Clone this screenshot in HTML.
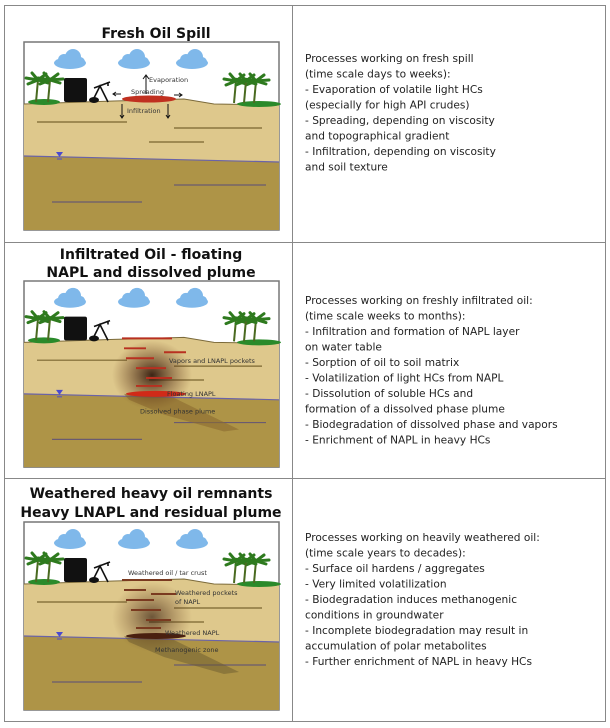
<!DOCTYPE html>
<html><head><meta charset="utf-8"><style>
html,body{margin:0;padding:0;background:#fff}
svg{display:block}
.t{font-family:"DejaVu Sans",sans-serif;font-size:10.6px;fill:#222}
.h{font-family:"DejaVu Sans",sans-serif;font-size:14px;font-weight:bold;fill:#111;text-anchor:middle}
.l{font-family:"DejaVu Sans",sans-serif;font-size:6.5px;fill:#333}
</style></head><body>
<svg width="610" height="728" viewBox="0 0 610 728" xmlns="http://www.w3.org/2000/svg">
<defs>
<g id="cloud"><ellipse cx="0" cy="3" rx="16" ry="6" fill="#7fb8ea"/><circle cx="-6" cy="0" r="6" fill="#7fb8ea"/><circle cx="3" cy="-3" r="8" fill="#7fb8ea"/><circle cx="10" cy="2" r="5" fill="#7fb8ea"/></g>
<g id="palm"><path d="M0 0 L2 -22" stroke="#4a6a20" stroke-width="2"/><path d="M2 -22 l-10 4 M2 -22 l10 3 M2 -22 l-6 -7 M2 -22 l8 -6 M2 -22 l-12 -2 M2 -22 l13 -1" stroke="#2e7a1e" stroke-width="3" stroke-linecap="round"/></g>
<g id="scene">
<rect x="0" y="0" width="255" height="188" fill="#fff" stroke="#777" stroke-width="1.5"/>
<use href="#cloud" x="46" y="18"/><use href="#cloud" x="110" y="18"/><use href="#cloud" x="168" y="18"/>
<polygon points="0,62 90,59 160,57 190,62 255,63 255,120 0,114" fill="#dec88c"/>
<polygon points="0,114 255,120 255,188 0,188" fill="#ae9447"/>
<polyline points="0,62 90,59 160,57 190,62 255,63" fill="none" stroke="#7b6a3a" stroke-width="1"/>
<polyline points="0,114 255,120" stroke="#6a63a8" stroke-width="1.2"/>
<path d="M13 80 H103 M150 86 H238 M125 100 H180" stroke="#7a6630" stroke-width="1.2"/>
<path d="M150 143 H242 M28 160 H118" stroke="#6a5a70" stroke-width="1.2"/>
<ellipse cx="20" cy="60" rx="16" ry="3" fill="#2a8a2a"/><ellipse cx="235" cy="62" rx="22" ry="3" fill="#2a8a2a"/>
<use href="#palm" x="12" y="60"/><use href="#palm" x="24" y="60"/><use href="#palm" x="210" y="61"/><use href="#palm" x="230" y="61"/><use href="#palm" x="220" y="61"/>
<rect x="40" y="36" width="23" height="24" rx="2" fill="#111"/>
<path d="M68 60 L76 44 L84 60 M70 46 L86 40 M84 40 L84 44" stroke="#111" stroke-width="1.6" fill="none"/>
<ellipse cx="70" cy="58" rx="5" ry="3" fill="#111"/>
<path d="M32 110 h7 l-3.5 5z" fill="#4a4ad0"/><path d="M33 117 h5" stroke="#4a4ad0"/>
</g>
<radialGradient id="plume"><stop offset="0" stop-color="#2a1208" stop-opacity=".9"/><stop offset="1" stop-color="#6a3a1a" stop-opacity="0"/></radialGradient>
</defs>
<rect x="4.5" y="5.5" width="601" height="716" fill="none" stroke="#888"/>
<line x1="292.5" y1="5" x2="292.5" y2="722" stroke="#888"/>
<line x1="4" y1="242.5" x2="606" y2="242.5" stroke="#888"/>
<line x1="4" y1="478.5" x2="606" y2="478.5" stroke="#888"/>

<!-- Panel 1 -->
<text class="h" x="156" y="38">Fresh Oil Spill</text>
<g transform="translate(24,42)">
<use href="#scene"/>
<ellipse cx="125" cy="57" rx="27" ry="3.5" fill="#c03020"/>
<path d="M122 52 v-18 M119 37 l3 -4 3 4" stroke="#111" fill="none"/>
<text class="l" x="125" y="40">Evaporation</text>
<text class="l" x="107" y="52">Spreading</text>
<path d="M97 52 h-8 M92 50 l-3 2 3 2 M150 53 h8 M155 51 l3 2 -3 2" stroke="#111" fill="none"/>
<path d="M98 62 v14 M96 73 l2 3 2 -3 M144 62 v14 M142 73 l2 3 2 -3" stroke="#111" fill="none"/>
<text class="l" x="103" y="71">Infiltration</text>
</g>
<g class="t">
<text x="305" y="62">Processes working on fresh spill</text>
<text x="305" y="77.5">(time scale days to weeks):</text>
<text x="305" y="93">- Evaporation of volatile light HCs</text>
<text x="305" y="108.5">(especially for high API crudes)</text>
<text x="305" y="124">- Spreading, depending on viscosity</text>
<text x="305" y="139.5">and topographical gradient</text>
<text x="305" y="155">- Infiltration, depending on viscosity</text>
<text x="305" y="170.5">and soil texture</text>
</g>

<!-- Panel 2 -->
<text class="h" x="151" y="259">Infiltrated Oil - floating</text>
<text class="h" x="151" y="277">NAPL and dissolved plume</text>
<g transform="translate(24,281) scale(1,0.99)">
<use href="#scene"/>
<polygon points="100,114 150,118 215,150 200,152 140,135 105,120" fill="#8a6a30" opacity=".6"/>
<ellipse cx="128" cy="95" rx="40" ry="35" fill="url(#plume)"/>
<path d="M98 58 H148 M100 68 H122 M140 72 H162 M102 78 H130 M112 88 H142 M122 98 H148 M112 106 H138" stroke="#b83020" stroke-width="2"/>
<ellipse cx="132" cy="114" rx="30" ry="3" fill="#d02a18"/>
<text class="l" x="145" y="83">Vapors and LNAPL pockets</text>
<text class="l" x="143" y="116">Floating LNAPL</text>
<text class="l" x="116" y="134">Dissolved phase plume</text>
</g>
<g class="t">
<text x="305" y="304">Processes working on freshly infiltrated oil:</text>
<text x="305" y="319.5">(time scale weeks to months):</text>
<text x="305" y="335">- Infiltration and formation of NAPL layer</text>
<text x="305" y="350.5">on water table</text>
<text x="305" y="366">- Sorption of oil to soil matrix</text>
<text x="305" y="381.5">- Volatilization of light HCs from NAPL</text>
<text x="305" y="397">- Dissolution of soluble HCs and</text>
<text x="305" y="412.5">formation of a dissolved phase plume</text>
<text x="305" y="428">- Biodegradation of dissolved phase and vapors</text>
<text x="305" y="443.5">- Enrichment of NAPL in heavy HCs</text>
</g>

<!-- Panel 3 -->
<text class="h" x="151" y="498">Weathered heavy oil remnants</text>
<text class="h" x="151" y="517">Heavy LNAPL and residual plume</text>
<g transform="translate(24,522)">
<use href="#scene"/>
<polygon points="100,114 150,118 215,150 200,152 140,135 105,120" fill="#6a5a30" opacity=".5"/>
<ellipse cx="128" cy="95" rx="40" ry="35" fill="url(#plume)" opacity=".7"/>
<path d="M98 58 H148 M100 68 H122 M127 72 H152 M102 78 H130 M107 88 H137 M122 98 H147 M112 106 H137" stroke="#7a3a20" stroke-width="2"/>
<ellipse cx="132" cy="114" rx="30" ry="3" fill="#4a2010"/>
<text class="l" x="104" y="53">Weathered oil / tar crust</text>
<text class="l" x="151" y="73">Weathered pockets</text>
<text class="l" x="151" y="82">of NAPL</text>
<text class="l" x="141" y="113">Weathered NAPL</text>
<text class="l" x="131" y="130">Methanogenic zone</text>
</g>
<g class="t">
<text x="305" y="541">Processes working on heavily weathered oil:</text>
<text x="305" y="556.5">(time scale years to decades):</text>
<text x="305" y="572">- Surface oil hardens / aggregates</text>
<text x="305" y="587.5">- Very limited volatilization</text>
<text x="305" y="603">- Biodegradation induces methanogenic</text>
<text x="305" y="618.5">conditions in groundwater</text>
<text x="305" y="634">- Incomplete biodegradation may result in</text>
<text x="305" y="649.5">accumulation of polar metabolites</text>
<text x="305" y="665">- Further enrichment of NAPL in heavy HCs</text>
</g>
</svg>
</body></html>
